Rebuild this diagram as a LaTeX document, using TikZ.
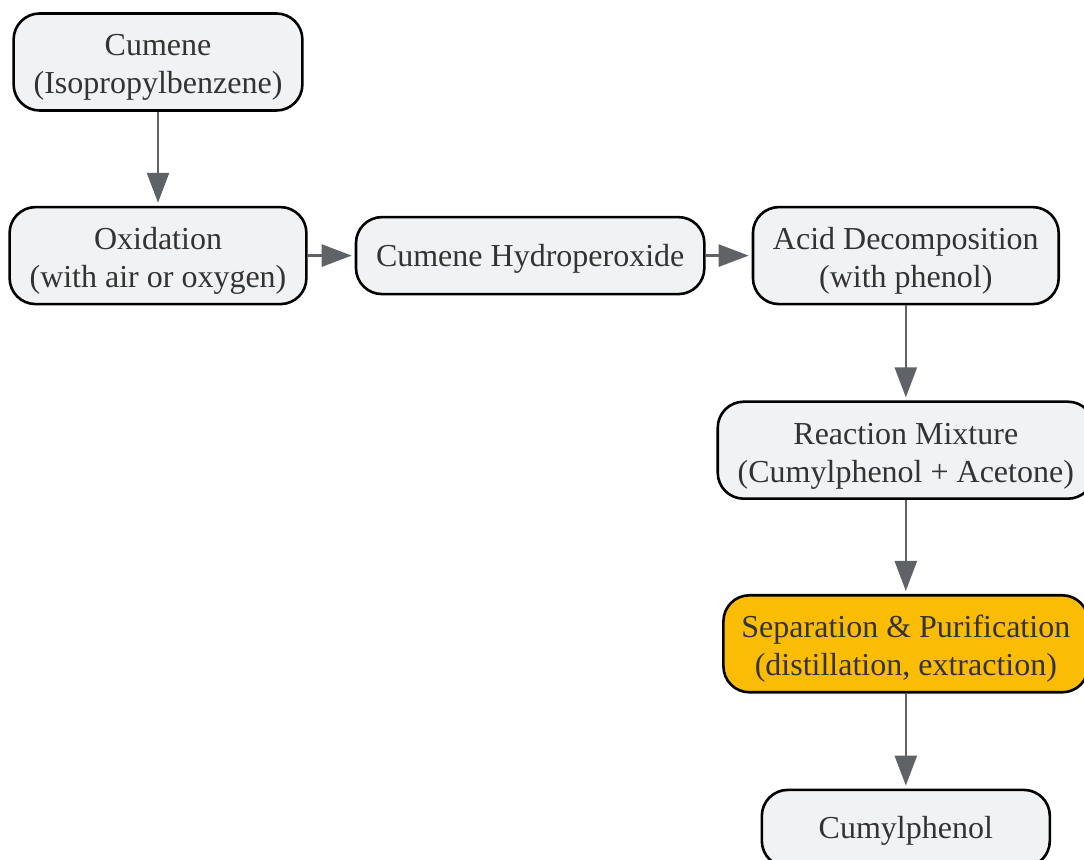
\documentclass[tikz,border=0pt]{standalone}
\usepackage{fontspec}
\setmainfont{Liberation Serif}
\usetikzlibrary{positioning,arrows.meta}
\definecolor{boxfill}{HTML}{F1F2F4}
\definecolor{hilite}{HTML}{FBBC05}
\definecolor{arrowgray}{HTML}{5F6368}
\definecolor{textgray}{HTML}{333333}

\begin{document}
\begin{tikzpicture}[x=0.5pt,y=-0.5pt,block/.style={draw=black,line width=1.3pt,fill=boxfill,rounded corners=13pt,align=center,minimum width=144pt,inner xsep=10pt,inner ysep=0pt,text=textgray,font=\fontsize{16}{19}\selectfont},twoline/.style={minimum height=48.5pt,text height=35.5pt,text depth=3.5pt},oneline/.style={minimum height=38.5pt,text height=14pt,text depth=3.5pt},arrow/.style={draw=arrowgray,line width=1.3pt,-{Triangle[length=15pt,width=11pt]},shorten >=1.5pt}]
  \useasboundingbox (0,0) rectangle (1084,860);

  \node[block,twoline] (cumene) at (158,62) {Cumene\\(Isopropylbenzene)};
  \node[block,twoline,below=47pt of cumene] (oxidation) {Oxidation\\(with air or oxygen)};

  \node[block,oneline,right=23.5pt of oxidation] (hydroperoxide) {Cumene Hydroperoxide};
  \node[block,twoline,right=23pt of hydroperoxide] (acid) {Acid Decomposition\\(with phenol)};

  \node[block,twoline,below=47.5pt of acid] (mixture) {Reaction Mixture\\(Cumylphenol + Acetone)};
  \node[block,twoline,below=47pt of mixture,fill=hilite,inner xsep=9pt] (separation) {Separation \& Purification\\(distillation, extraction)};
  \node[block,oneline,below=47.5pt of separation] (product) {Cumylphenol};

  \draw[arrow] (cumene) -- (oxidation);
  \draw[arrow] (oxidation) -- (hydroperoxide);
  \draw[arrow] (hydroperoxide) -- (acid);
  \draw[arrow] (acid) -- (mixture);
  \draw[arrow] (mixture) -- (separation);
  \draw[arrow] (separation) -- (product);
\end{tikzpicture}
\end{document}
